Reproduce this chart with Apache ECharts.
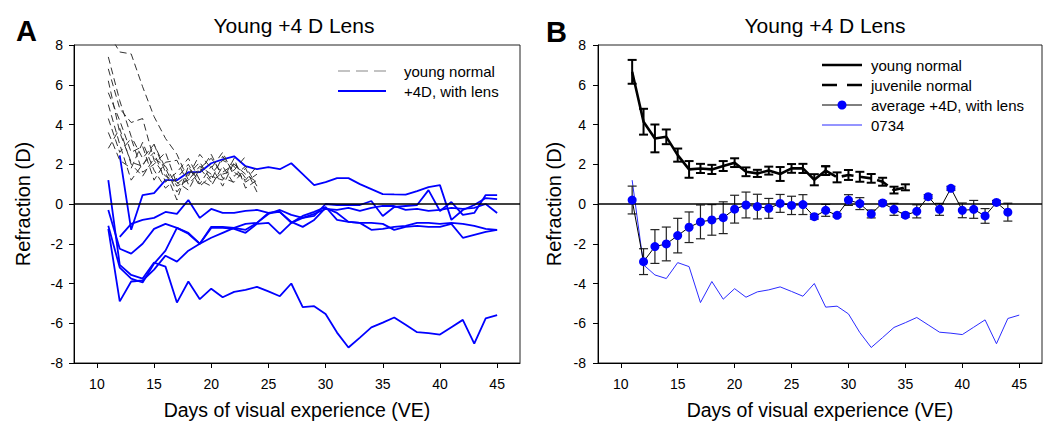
<!DOCTYPE html>
<html>
<head>
<meta charset="utf-8">
<script src="https://cdn.jsdelivr.net/npm/echarts@6/dist/echarts.min.js"></script>
<style>html,body{margin:0;padding:0;background:#fff;}#c{width:1050px;height:427px;}</style>
</head>
<body>
<div id="c"></div>
<script>
// ---------------- DATA ----------------
const days = [11,12,13,14,15,16,17,18,19,20,21,22,23,24,25,26,27,28,29,30,31,32,33,34,35,36,37,38,39,40,41,42,43,44,45];
const xTicks = [10,15,20,25,30,35,40,45];
const yTicks = [-8,-6,-4,-2,0,2,4,6,8];

// Panel A: young normal animals (dashed), values from day 11
const ynA1 = [8.6, 7.65, 7.55, 5.9, 4.4, 3.3, 2.5, 1.2, 1.9, 1.5, 2.2, 1.9, 1.1, 1.5];
const ynA2 = [7.4, 5.2, 3.4, 2.3, 3.0, 1.8, 0.6, 1.4, 2.5, 1.8, 2.6, 1.4, 1.9, 0.9];
const ynA3 = [6.8, 4.8, 4.1, 4.3, 2.2, 1.4, 1.1, 0.7, 1.8, 2.3, 1.5, 1.7, 2.4];
const ynA4 = [6.2, 3.6, 2.1, 1.9, 3.0, 1.6, 0.2, 1.9, 0.9, 1.4, 1.2, 2.3, 0.8, 1.2];
const ynA5 = [5.6, 4.2, 2.6, 2.9, 1.2, 2.1, 2.2, 1.0, 1.6, 2.5, 1.3, 1.1, 1.8, 0.6];
const ynA6 = [5.0, 3.0, 1.2, 2.0, 2.6, 1.1, 1.6, 2.3, 1.2, 0.9, 1.9, 1.0];
const ynA7 = [4.3, 2.6, 3.3, 1.6, 2.0, 2.6, 1.0, 1.5, 2.1, 1.2, 2.4, 1.6, 1.2, 1.9];
const ynA8 = [3.6, 2.2, 1.8, 3.1, 1.7, 0.8, 1.3, 2.0, 1.0, 1.9, 0.9, 2.1, 1.3];
const ynA9 = [2.8, 3.8, 2.0, 1.4, 2.3, 1.9, 0.9, 1.2, 1.8, 1.1, 1.6, 2.0, 1.5, 1.1];

// Panel A: +4D with lens animals, values from day 11 (null = not measured)
const lensA1 = [null, 2.45, -1.3, 0.45, 0.55, 1.2, 1.2, 1.6, 1.6, 2.05, 2.25, 2.4, 1.9, 1.75, 1.85, 1.75, 2.05, 1.5, 0.95, 1.1, 1.3, 1.3, 1.0, 0.75, 0.5, 0.48, 0.47, 0.65, 0.85, 0.95, -0.8, -0.3, -0.05, 0.3, 0.25];
const lensA2 = [-0.3, -2.25, -2.5, -2.0, -1.25, -1.0, -1.2, -1.45, -2.0, -1.15, -1.15, -1.2, -1.3, -0.95, -0.45, -0.4, -0.9, -1.15, -0.8, -0.2, -0.45, -0.9, -0.95, -0.95, -1.0, -1.3, -1.15, -1.1, -1.15, -1.15, -1.0, -1.7, -1.55, -1.4, -1.3];
const lensA3 = [null, -1.65, -1.0, -0.8, -0.7, -0.4, -0.5, 0.2, -0.7, -0.25, -0.45, -0.45, -0.35, -0.3, -0.45, -0.4, -0.95, -0.7, -0.6, 0.0, -0.05, -0.05, -0.05, 0.15, -0.6, -0.15, -0.1, -0.05, 0.7, -0.35, 0.1, -0.55, -0.45, 0.45, 0.45];
const lensA4 = [-1.1, -3.2, -3.75, -3.95, -3.0, -2.35, -1.2, -1.5, -2.0, -1.2, -1.2, -1.25, -1.45, -1.0, -0.95, -1.5, -0.95, -0.6, -0.4, -0.15, -0.8, -0.9, -0.95, -1.3, -1.25, -1.15, -1.1, -0.95, -0.95, -1.0, -0.95, -1.0, -1.1, -1.25, -1.3];
const lensA5 = [-1.25, -4.9, -3.9, -3.85, -3.3, -2.6, -2.9, -2.35, -2.0, -1.7, -1.45, -1.2, -1.0, -0.95, -0.5, -0.3, -0.55, -0.7, -0.5, -0.25, -0.3, -0.2, -0.35, -0.2, -0.1, -0.1, -0.3, -0.25, -0.35, -0.3, -0.2, -0.25, -0.2, 0.0, -0.45];
// animal 0734 (shown in both panels)
const animal0734 = [1.2, -3.06, -3.57, -3.75, -2.95, -3.15, -4.96, -3.9, -4.79, -4.26, -4.69, -4.42, -4.32, -4.17, -4.4, -4.64, -4.0, -5.19, -5.14, -5.53, -6.47, -7.22, -6.72, -6.21, -5.97, -5.71, -6.08, -6.45, -6.5, -6.57, -6.2, -5.83, -7.03, -5.76, -5.59];

// Panel B: group means and error bars
const youngDays = [11,12,13,14,15,16,17,18,19,20,21,22,23,24,25,26,27,28];
const youngMean = [6.65, 4.14, 3.3, 3.38, 2.46, 1.74, 1.79, 1.74, 1.91, 2.08, 1.62, 1.54, 1.68, 1.51, 1.79, 1.79, 1.22, 1.68];
const youngErr  = [0.6, 0.65, 0.7, 0.37, 0.33, 0.42, 0.23, 0.23, 0.25, 0.22, 0.22, 0.18, 0.2, 0.35, 0.22, 0.23, 0.28, 0.22];
const juvDays = [28,29,30,31,32,33,34,35];
const juvMean = [1.68, 1.34, 1.46, 1.37, 1.29, 1.12, 0.7, 0.84];
const juvErr  = [0.22, 0.25, 0.25, 0.25, 0.22, 0.2, 0.17, 0.15];
const avgDays = [11,12,13,14,15,16,17,18,19,20,21,22,23,24,25,26,27,28,29,30,31,32,33,34,35,36,37,38,39,40,41,42,43,44];
const avgMean = [0.2, -2.9, -2.14, -2.01, -1.59, -1.17, -0.9, -0.8, -0.69, -0.26, -0.05, -0.13, -0.22, 0.03, -0.07, -0.03, -0.64, -0.32, -0.57, 0.2, 0.02, -0.5, 0.05, -0.27, -0.56, -0.37, 0.37, -0.27, 0.79, -0.32, -0.27, -0.6, 0.08, -0.41];
const avgErr  = [0.7, 0.65, 0.85, 0.85, 0.87, 0.77, 0.85, 0.77, 0.8, 0.7, 0.65, 0.62, 0.5, 0.45, 0.46, 0.5, 0.12, 0.3, 0.08, 0.27, 0.3, 0.2, 0.1, 0.3, 0.1, 0.33, 0.1, 0.3, 0.1, 0.37, 0.45, 0.37, 0.1, 0.45];

// ---------------- BUILD ----------------
const FONT = '"Liberation Sans", Arial, Helvetica, sans-serif';
function pairs(xs, vals) {
  const out = [];
  vals.forEach((v, i) => { if (v !== null && v !== undefined) out.push([xs[i], v]); });
  return out;
}
function errData(xs, m, e) { return xs.map((x, i) => [x, m[i] - e[i], m[i] + e[i]]); }
function errRender(color, width, half) {
  return function (params, api) {
    const x = api.value(0), lo = api.value(1), hi = api.value(2);
    const a = api.coord([x, hi]), b = api.coord([x, lo]);
    const st = { stroke: color, lineWidth: width, fill: null };
    return { type: 'group', children: [
      { type: 'line', shape: { x1: a[0], y1: a[1], x2: b[0], y2: b[1] }, style: st },
      { type: 'line', shape: { x1: a[0] - half, y1: a[1], x2: a[0] + half, y2: a[1] }, style: st },
      { type: 'line', shape: { x1: b[0] - half, y1: b[1], x2: b[0] + half, y2: b[1] }, style: st }
    ]};
  };
}

function xAxis(gi) {
  return {
    type: 'value', gridIndex: gi, min: 8, max: 47,
    name: 'Days of visual experience (VE)', nameLocation: 'middle', nameGap: 37,
    nameTextStyle: { fontFamily: FONT, fontSize: 19.5, color: '#000' },
    axisLine: { show: true, onZero: false, lineStyle: { color: '#000', width: 1 } },
    axisTick: { show: true, inside: false, length: 5, customValues: xTicks, lineStyle: { color: '#000' } },
    axisLabel: { show: true, margin: 14, customValues: xTicks, fontFamily: FONT, fontSize: 14, color: '#000' },
    splitLine: { show: false }
  };
}
function yAxis(gi, gap, lm) {
  return {
    type: 'value', gridIndex: gi, min: -8, max: 8, interval: 2,
    name: 'Refraction (D)', nameLocation: 'middle', nameGap: gap, nameRotate: 90,
    nameTextStyle: { fontFamily: FONT, fontSize: 20, color: '#000' },
    axisLine: { show: true, onZero: false, lineStyle: { color: '#000', width: 1 } },
    axisTick: { show: true, inside: false, length: 5, lineStyle: { color: '#000' } },
    axisLabel: { show: true, margin: lm, fontFamily: FONT, fontSize: 14, color: '#000' },
    splitLine: { show: false }
  };
}

const zeroLine = {
  symbol: 'none', silent: true, animation: false,
  label: { show: false },
  lineStyle: { color: '#000', width: 1.5, type: 'solid' },
  data: [{ yAxis: 0 }]
};

const series = [];
// Panel A blue lines
[lensA1, lensA2, lensA3, lensA4, lensA5, animal0734].forEach((arr, k) => {
  const s = {
    name: '+4D, with lens', type: 'line', xAxisIndex: 0, yAxisIndex: 0,
    data: pairs(days, arr), symbol: 'none', silent: true, z: 3,
    lineStyle: { color: '#0000ff', width: 1.8 }
  };
  if (k === 0) s.markLine = zeroLine;
  series.push(s);
});
// Panel A dashed young normal
[ynA1, ynA2, ynA3, ynA4, ynA5, ynA6, ynA7, ynA8, ynA9].forEach(arr => {
  series.push({
    name: 'young normal', type: 'line', xAxisIndex: 0, yAxisIndex: 0,
    data: pairs(days, arr), symbol: 'none', silent: true, z: 4,
    lineStyle: { color: '#333', width: 1, type: [7, 4] }
  });
});
// Panel B
series.push({
  name: '0734', type: 'line', xAxisIndex: 1, yAxisIndex: 1,
  data: pairs(days, animal0734), symbol: 'none', silent: true, z: 3,
  lineStyle: { color: '#2b2bff', width: 1 },
  markLine: zeroLine
});
series.push({
  name: 'young normal err', type: 'custom', xAxisIndex: 1, yAxisIndex: 1, silent: true, z: 4,
  renderItem: errRender('#000', 2, 4.5), encode: { x: 0, y: [1, 2] },
  data: errData(youngDays, youngMean, youngErr)
});
series.push({
  name: 'young normal', type: 'line', xAxisIndex: 1, yAxisIndex: 1,
  data: pairs(youngDays, youngMean), symbol: 'none', silent: true, z: 5,
  lineStyle: { color: '#000', width: 2.6 }
});
series.push({
  name: 'juvenile normal err', type: 'custom', xAxisIndex: 1, yAxisIndex: 1, silent: true, z: 4,
  renderItem: errRender('#000', 2, 4.5), encode: { x: 0, y: [1, 2] },
  data: errData(juvDays, juvMean, juvErr)
});
series.push({
  name: 'juvenile normal', type: 'line', xAxisIndex: 1, yAxisIndex: 1,
  data: pairs(juvDays, juvMean), symbol: 'none', silent: true, z: 5,
  lineStyle: { color: '#000', width: 2.6, type: [12, 6] }
});
series.push({
  name: 'average err', type: 'custom', xAxisIndex: 1, yAxisIndex: 1, silent: true, z: 4,
  renderItem: errRender('#222', 1.2, 4.5), encode: { x: 0, y: [1, 2] },
  data: errData(avgDays, avgMean, avgErr)
});
series.push({
  name: 'average +4D, with lens', type: 'line', xAxisIndex: 1, yAxisIndex: 1,
  data: pairs(avgDays, avgMean), symbol: 'circle', symbolSize: 9, silent: true, z: 6,
  lineStyle: { color: '#000', width: 1 },
  itemStyle: { color: '#0000ff', borderWidth: 0 }
});

const txt = (t, x, y, size) => ({
  type: 'text', x: x, y: y, silent: true,
  style: { text: t, font: size + 'px ' + FONT, fill: '#000', align: 'left', verticalAlign: 'middle' }
});
const seg = (x1, y1, x2, y2, stroke, w, dash) => ({
  type: 'line', silent: true,
  shape: { x1: x1, y1: y1, x2: x2, y2: y2 },
  style: { stroke: stroke, lineWidth: w, lineDash: dash || null }
});

const option = {
  animation: false,
  backgroundColor: '#fff',
  title: [
    { text: 'Young +4 D Lens', left: 294, top: 15, textAlign: 'center', padding: 0,
      textStyle: { fontFamily: FONT, fontSize: 21, fontWeight: 'normal', color: '#000' } },
    { text: 'Young +4 D Lens', left: 825, top: 15, textAlign: 'center', padding: 0,
      textStyle: { fontFamily: FONT, fontSize: 21, fontWeight: 'normal', color: '#000' } },
    { text: 'A', left: 16, top: 16, padding: 0,
      textStyle: { fontFamily: FONT, fontSize: 29, fontWeight: 'bold', color: '#000' } },
    { text: 'B', left: 546, top: 17, padding: 0,
      textStyle: { fontFamily: FONT, fontSize: 29, fontWeight: 'bold', color: '#000' } }
  ],
  grid: [
    { left: 74, top: 45, width: 446, height: 318, show: true, borderColor: '#222', borderWidth: 1, backgroundColor: 'transparent' },
    { left: 598, top: 45, width: 444, height: 318, show: true, borderColor: '#222', borderWidth: 1, backgroundColor: 'transparent' }
  ],
  xAxis: [xAxis(0), xAxis(1)],
  yAxis: [yAxis(0, 41, 11), yAxis(1, 34, 12)],
  series: series,
  graphic: [
    seg(338, 71, 386, 71, '#888', 1.2, [12, 6]),
    txt('young normal', 404, 71, 15),
    seg(338, 91, 386, 91, '#0000ff', 1.8),
    txt('+4D, with lens', 404, 91, 15),
    seg(822, 65, 862, 65, '#000', 2.6),
    txt('young normal', 871, 65, 15),
    seg(822, 85, 862, 85, '#000', 2.6, [15, 10]),
    txt('juvenile normal', 871, 85, 15),
    seg(822, 105, 862, 105, '#000', 1),
    { type: 'circle', silent: true, shape: { cx: 842, cy: 105, r: 4.5 }, style: { fill: '#0000ff' } },
    txt('average +4D, with lens', 871, 105, 15),
    seg(822, 125, 862, 125, '#2b2bff', 1),
    txt('0734', 871, 125, 15)
  ]
};

const chart = echarts.init(document.getElementById('c'), null, { renderer: 'svg', width: 1050, height: 427 });
chart.setOption(option);
</script>
</body>
</html>
